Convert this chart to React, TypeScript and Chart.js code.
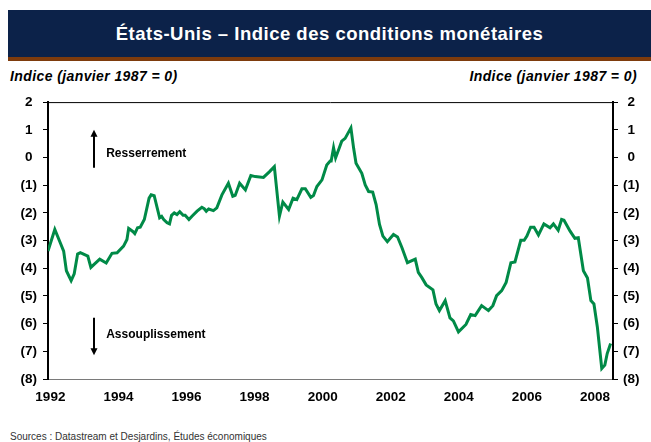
import React, { useEffect, useRef } from "react";
import { Chart, registerables } from "chart.js";

Chart.register(...registerables);

// Monthly-ish readings (fractional year) of the US monetary conditions index
const years: number[] = [
  1991.93, 1992.13, 1992.29, 1992.39, 1992.47, 1992.61, 1992.70, 1992.80, 1992.88,
  1993.10, 1993.19, 1993.45, 1993.64, 1993.81, 1993.96, 1994.15, 1994.25, 1994.30,
  1994.43, 1994.48, 1994.56, 1994.64, 1994.76, 1994.90, 1994.96, 1995.05, 1995.21,
  1995.27, 1995.33, 1995.43, 1995.50, 1995.56, 1995.64, 1995.72, 1995.80, 1995.90,
  1995.96, 1996.07, 1996.16, 1996.31, 1996.45, 1996.52, 1996.58, 1996.65, 1996.79,
  1996.89, 1997.04, 1997.23, 1997.36, 1997.43, 1997.56, 1997.73, 1997.89, 1998.02,
  1998.26, 1998.44, 1998.58, 1998.73, 1998.83, 1999.00, 1999.13, 1999.24, 1999.39,
  1999.49, 1999.65, 1999.73, 1999.83, 1999.98, 2000.12, 2000.22, 2000.25, 2000.32,
  2000.38, 2000.49, 2000.56, 2000.66, 2000.83, 2000.91, 2000.98, 2001.15, 2001.25,
  2001.35, 2001.47, 2001.57, 2001.67, 2001.77, 2001.90, 2002.08, 2002.20, 2002.33,
  2002.49, 2002.72, 2002.81, 2002.91, 2003.04, 2003.24, 2003.33, 2003.43, 2003.60,
  2003.74, 2003.84, 2003.99, 2004.21, 2004.35, 2004.48, 2004.67, 2004.87, 2005.00,
  2005.11, 2005.26, 2005.39, 2005.53, 2005.65, 2005.82, 2005.92, 2006.00, 2006.11,
  2006.21, 2006.34, 2006.50, 2006.68, 2006.78, 2006.92, 2007.02, 2007.09, 2007.27,
  2007.41, 2007.51, 2007.66, 2007.78, 2007.88, 2007.97, 2008.07, 2008.20, 2008.29,
  2008.36, 2008.46,
];

const mciValues: number[] = [
  -3.38, -2.60, -3.08, -3.38, -4.09, -4.45, -4.20, -3.49, -3.44,
  -3.56, -3.97, -3.67, -3.81, -3.46, -3.44, -3.20, -2.96, -2.56,
  -2.68, -2.75, -2.54, -2.52, -2.24, -1.47, -1.35, -1.38, -2.18,
  -2.13, -2.24, -2.36, -2.40, -2.09, -2.00, -2.06, -1.96, -2.09,
  -2.09, -2.24, -2.12, -1.94, -1.80, -1.85, -1.94, -1.86, -1.92,
  -1.82, -1.35, -0.93, -1.40, -1.37, -0.93, -1.17, -0.65, -0.69,
  -0.72, -0.51, -0.33, -2.12, -1.61, -1.88, -1.47, -1.52, -1.13,
  -1.13, -1.44, -1.37, -1.05, -0.81, -0.27, -0.13, -0.13, 0.35,
  -0.01, 0.35, 0.59, 0.69, 1.07, 0.33, -0.21, -0.57, -0.99,
  -1.23, -1.25, -1.70, -2.42, -2.84, -3.04, -2.78, -2.87, -3.26,
  -3.80, -3.67, -4.15, -4.33, -4.60, -4.78, -5.29, -5.53, -5.17,
  -5.79, -5.90, -6.30, -6.03, -5.67, -5.71, -5.35, -5.53, -5.35,
  -4.99, -4.81, -4.51, -3.80, -3.77, -2.99, -2.99, -2.84, -2.52,
  -2.52, -2.80, -2.40, -2.54, -2.40, -2.63, -2.24, -2.27, -2.66,
  -2.92, -2.90, -4.09, -4.35, -5.17, -5.29, -6.12, -7.62, -7.50,
  -7.08, -6.72,
];

const yearTicks: number[] = [1992, 1994, 1996, 1998, 2000, 2002, 2004, 2006, 2008];
const yMin = -8;
const yMax = 2;
const xMin = 1991.93;
const xMax = 2008.53;

const TITLE = "États-Unis – Indice des conditions monétaires";
const AXIS_TITLE = "Indice (janvier 1987 = 0)";
const SOURCE = "Sources : Datastream et Desjardins, Études économiques";
const UP_LABEL = "Resserrement";
const DOWN_LABEL = "Assouplissement";

const FONT = "'Liberation Sans', Arial, Helvetica, sans-serif";

const fmt = (v: number) => (v < 0 ? `(${-v})` : String(v));

export default function App() {
  const ref = useRef<HTMLCanvasElement | null>(null);

  useEffect(() => {
    if (!ref.current) return;

    const decor = {
      id: "decor",
      afterDraw(chart: any) {
        const { ctx, chartArea, scales } = chart;
        const xs = scales.x;
        const ys = scales.y;
        ctx.save();
        // top frame line
        ctx.strokeStyle = "#000";
        ctx.lineWidth = 1;
        ctx.beginPath();
        ctx.moveTo(chartArea.left, chartArea.top + 0.5);
        ctx.lineTo(chartArea.right, chartArea.top + 0.5);
        ctx.stroke();

        const drawArrow = (xv: number, yFrom: number, yTo: number) => {
          const x = Math.round(xs.getPixelForValue(xv));
          const y1 = ys.getPixelForValue(yFrom);
          const y2 = ys.getPixelForValue(yTo);
          const dir = y2 < y1 ? -1 : 1;
          ctx.strokeStyle = "#000";
          ctx.fillStyle = "#000";
          ctx.lineWidth = 2;
          ctx.beginPath();
          ctx.moveTo(x, y1);
          ctx.lineTo(x, y2 - dir * 5);
          ctx.stroke();
          ctx.beginPath();
          ctx.moveTo(x, y2);
          ctx.lineTo(x - 3.5, y2 - dir * 7);
          ctx.lineTo(x + 3.5, y2 - dir * 7);
          ctx.closePath();
          ctx.fill();
        };
        drawArrow(1993.29, -0.37, 1.0);
        drawArrow(1993.29, -5.79, -7.14);

        ctx.font = `bold 12px ${FONT}`;
        ctx.fillStyle = "#000";
        ctx.textAlign = "left";
        ctx.textBaseline = "middle";
        ctx.fillText(UP_LABEL, xs.getPixelForValue(1993.64), ys.getPixelForValue(0.15));
        ctx.fillText(DOWN_LABEL, xs.getPixelForValue(1993.64), ys.getPixelForValue(-6.39));
        ctx.restore();
      },
    };

    const tickFont = { family: FONT, size: 13.5, weight: "bold" as const };

    const chart = new Chart(ref.current, {
      type: "line",
      data: {
        datasets: [
          {
            data: years.map((y, i) => ({ x: y, y: mciValues[i] })),
            borderColor: "#008A47",
            borderWidth: 3,
            pointRadius: 0,
            tension: 0,
            fill: false,
            yAxisID: "y",
          },
        ],
      },
      options: {
        animation: false,
        responsive: false,
        devicePixelRatio: 1,
        layout: { padding: { top: 12, bottom: 14, left: 0, right: 0 } },
        plugins: {
          legend: { display: false },
          tooltip: { enabled: false },
        },
        scales: {
          x: {
            type: "linear",
            min: xMin,
            max: xMax,
            afterBuildTicks: (s: any) => {
              s.ticks = yearTicks.map((v) => ({ value: v }));
            },
            afterFit: (s: any) => {
              s.height = 27;
            },
            grid: { display: true, drawOnChartArea: false, drawTicks: false },
            border: { display: true, color: "#7a7a7a", width: 1 },
            ticks: {
              color: "#000",
              font: tickFont,
              padding: 10,
              maxRotation: 0,
              autoSkip: false,
              callback: (v: any) => String(v),
            },
          },
          y: {
            type: "linear",
            position: "left",
            min: yMin,
            max: yMax,
            afterFit: (s: any) => {
              s.width = 48;
            },
            grid: { drawOnChartArea: false, drawTicks: true, tickLength: 5, color: "#000" },
            border: { display: true, color: "#000", width: 2 },
            ticks: {
              stepSize: 1,
              color: "#000",
              font: tickFont,
              padding: 6,
              crossAlign: "center",
              callback: (v: any) => fmt(Number(v)),
            },
          },
          y2: {
            type: "linear",
            position: "right",
            min: yMin,
            max: yMax,
            afterFit: (s: any) => {
              s.width = 38;
            },
            grid: { drawOnChartArea: false, drawTicks: true, tickLength: 5, color: "#000" },
            border: { display: true, color: "#000", width: 2 },
            ticks: {
              stepSize: 1,
              color: "#000",
              font: tickFont,
              padding: 5,
              crossAlign: "center",
              callback: (v: any) => fmt(Number(v)),
            },
          },
        },
      } as any,
      plugins: [decor],
    });

    return () => chart.destroy();
  }, []);

  return (
    <div
      style={{
        position: "absolute",
        left: 0,
        top: 0,
        width: 651,
        height: 442,
        background: "#fff",
        overflow: "hidden",
        fontFamily: FONT,
      }}
    >
      <div
        style={{
          position: "absolute",
          left: 8,
          top: 10,
          width: 643,
          height: 47,
          background: "#0C2249",
          borderBottom: "4px solid #7E3B0C",
          color: "#fff",
          fontWeight: "bold",
          fontSize: 18.5,
          lineHeight: "47px",
          textAlign: "center",
          letterSpacing: 0.5,
          whiteSpace: "nowrap",
        }}
      >
        {TITLE}
      </div>
      <div
        style={{
          position: "absolute",
          left: 10,
          top: 68,
          fontWeight: "bold",
          fontStyle: "italic",
          fontSize: 14,
          lineHeight: "17px",
          letterSpacing: 0.4,
          color: "#000",
          whiteSpace: "nowrap",
        }}
      >
        {AXIS_TITLE}
      </div>
      <div
        style={{
          position: "absolute",
          right: 14,
          top: 68,
          fontWeight: "bold",
          fontStyle: "italic",
          fontSize: 14,
          lineHeight: "17px",
          letterSpacing: 0.4,
          color: "#000",
          whiteSpace: "nowrap",
        }}
      >
        {AXIS_TITLE}
      </div>
      <canvas
        ref={ref}
        width={651}
        height={332}
        style={{ position: "absolute", left: 0, top: 88, width: 651, height: 332 }}
      />
      <div
        style={{
          position: "absolute",
          left: 10,
          top: 431,
          fontSize: 10,
          lineHeight: "12px",
          color: "#333",
          whiteSpace: "nowrap",
        }}
      >
        {SOURCE}
      </div>
    </div>
  );
}
